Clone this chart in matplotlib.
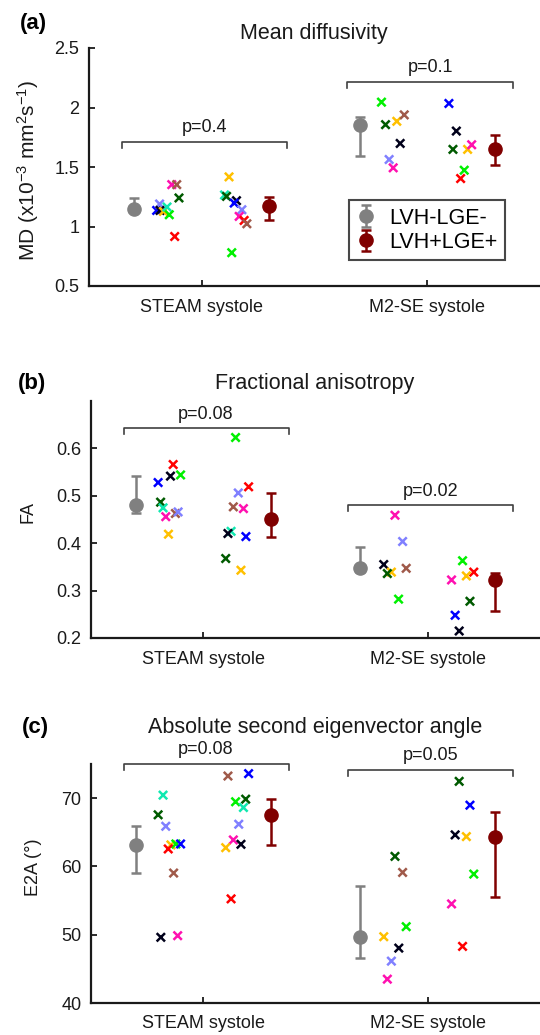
import numpy as np
import matplotlib
matplotlib.use('Agg')
import matplotlib.pyplot as plt

plt.rcParams['font.family'] = ['Liberation Sans', 'DejaVu Sans']
plt.rcParams['mathtext.fontset'] = 'custom'
plt.rcParams['mathtext.rm'] = 'Liberation Sans'
plt.rcParams['mathtext.it'] = 'Liberation Sans:italic'
plt.rcParams['mathtext.default'] = 'regular'

# categorías y grupos
categories = ['STEAM systole', 'M2-SE systole']
groups = ['LVH-LGE-', 'LVH+LGE+']
group_colors = ['#808080', '#800000']

# colores por sujeto
palette = {'b': '#0000ff', 'lb': '#8080ff', 'k': '#00001a', 'y': '#ffc000',
           'aq': '#10e8b0', 'g': '#00f000', 'm': '#ff10b0', 'br': '#a05a4a',
           'dg': '#005a00', 'r': '#ff0000'}

# ---------- (a) MD ----------
md_steam_neg_subj = ['b', 'lb', 'k', 'y', 'aq', 'g', 'm', 'br', 'dg', 'r']
md_steam_neg_dx = [-0.20, -0.187, -0.185, -0.170, -0.154, -0.144, -0.133, -0.111, -0.101, -0.12]
md_steam_neg = [1.135, 1.189, 1.135, 1.127, 1.164, 1.099, 1.352, 1.352, 1.240, 0.916]
md_steam_pos_subj = ['y', 'aq', 'dg', 'k', 'b', 'lb', 'm', 'r', 'br', 'g']
md_steam_pos_dx = [0.121, 0.101, 0.110, 0.154, 0.144, 0.178, 0.166, 0.188, 0.200, 0.133]
md_steam_pos = [1.417, 1.265, 1.253, 1.217, 1.197, 1.141, 1.085, 1.051, 1.023, 0.78]
md_m2_neg_subj = ['g', 'dg', 'y', 'br', 'k', 'lb', 'm']
md_m2_neg_dx = [-0.203, -0.185, -0.135, -0.102, -0.12, -0.169, -0.151]
md_m2_neg = [2.045, 1.856, 1.884, 1.938, 1.698, 1.563, 1.493]
md_m2_pos_subj = ['b', 'k', 'dg', 'y', 'm', 'g', 'r']
md_m2_pos_dx = [0.096, 0.129, 0.114, 0.179, 0.197, 0.164, 0.148]
md_m2_pos = [2.034, 1.802, 1.648, 1.648, 1.687, 1.473, 1.403]
# mediana / inferior / superior  [técnica][grupo]
md_med = [[1.147, 1.169], [1.856, 1.648]]
md_lo = [[1.125, 1.051], [1.591, 1.513]]
md_hi = [[1.237, 1.248], [1.924, 1.769]]
md_p = ['p=0.4', 'p=0.1']
md_bracket = [1.71, 2.216]

# ---------- (b) FA ----------
fa_steam_neg_subj = ['b', 'k', 'r', 'g', 'dg', 'aq', 'm', 'br', 'lb', 'y']
fa_steam_neg_dx = [-0.201, -0.146, -0.134, -0.101, -0.19, -0.179, -0.167, -0.124, -0.112, -0.155]
fa_steam_neg = [0.528, 0.5415, 0.566, 0.544, 0.4866, 0.4746, 0.456, 0.4627, 0.466, 0.419]
fa_steam_pos_subj = ['g', 'r', 'lb', 'br', 'm', 'aq', 'k', 'b', 'dg', 'y']
fa_steam_pos_dx = [0.144, 0.202, 0.156, 0.134, 0.179, 0.124, 0.11, 0.19, 0.10, 0.168]
fa_steam_pos = [0.623, 0.519, 0.506, 0.4767, 0.473, 0.425, 0.4205, 0.414, 0.3677, 0.343]
fa_m2_neg_subj = ['m', 'lb', 'k', 'y', 'dg', 'br', 'g']
fa_m2_neg_dx = [-0.146, -0.112, -0.196, -0.162, -0.18, -0.096, -0.13]
fa_m2_neg = [0.459, 0.4036, 0.355, 0.339, 0.336, 0.347, 0.282]
fa_m2_pos_subj = ['g', 'r', 'y', 'm', 'dg', 'b', 'k']
fa_m2_pos_dx = [0.155, 0.205, 0.172, 0.106, 0.188, 0.122, 0.14]
fa_m2_pos = [0.363, 0.339, 0.331, 0.3225, 0.2775, 0.248, 0.2148]
fa_med = [[0.4796, 0.450], [0.348, 0.322]]
fa_lo = [[0.4627, 0.413], [0.340, 0.256]]
fa_hi = [[0.5415, 0.506], [0.392, 0.337]]
fa_p = ['p=0.08', 'p=0.02']
fa_bracket = [0.642, 0.480]

# ---------- (c) E2A ----------
e2a_steam_neg_subj = ['aq', 'dg', 'lb', 'y', 'g', 'b', 'r', 'br', 'k', 'm']
e2a_steam_neg_dx = [-0.179, -0.201, -0.167, -0.144, -0.122, -0.101, -0.156, -0.132, -0.189, -0.114]
e2a_steam_neg = [70.44, 67.56, 65.88, 63.15, 63.29, 63.29, 62.56, 59.03, 49.62, 49.86]
e2a_steam_pos_subj = ['br', 'b', 'g', 'dg', 'aq', 'lb', 'm', 'k', 'y', 'r']
e2a_steam_pos_dx = [0.11, 0.202, 0.144, 0.189, 0.179, 0.158, 0.134, 0.168, 0.10, 0.124]
e2a_steam_pos = [73.24, 73.59, 69.47, 69.85, 68.63, 66.18, 63.88, 63.24, 62.75, 55.25]
e2a_m2_neg_subj = ['dg', 'br', 'g', 'y', 'k', 'lb', 'm']
e2a_m2_neg_dx = [-0.146, -0.112, -0.096, -0.196, -0.129, -0.162, -0.18]
e2a_m2_neg = [61.47, 59.12, 51.18, 49.71, 48.04, 46.13, 43.49]
e2a_m2_pos_subj = ['dg', 'b', 'k', 'y', 'g', 'm', 'r']
e2a_m2_pos_dx = [0.14, 0.188, 0.122, 0.172, 0.205, 0.106, 0.155]
e2a_m2_pos = [72.46, 68.97, 64.62, 64.37, 58.88, 54.51, 48.29]
e2a_med = [[63.15, 67.46], [49.71, 64.37]]
e2a_lo = [[59.03, 63.19], [46.57, 55.59]]
e2a_hi = [[65.88, 69.85], [57.16, 67.94]]
e2a_p = ['p=0.08', 'p=0.05']
e2a_bracket = [75.0, 74.12]

W, H = 540, 1035
fig = plt.figure(figsize=(W / 100, H / 100), dpi=100)


def px_axes(left, top, right, bottom):
    return fig.add_axes([left / W, 1 - bottom / H, (right - left) / W, (bottom - top) / H])


def draw_panel(ax, pts, med, lo, hi, pvals, bracket, ylim, yticks, yticklabels):
    # puntos individuales
    for (subj, dx, vals), xc in zip(pts, [1, 1, 2, 2]):
        ax.scatter(xc + np.array(dx), vals, marker='x', s=36, linewidths=1.8,
                   c=[palette[s] for s in subj], zorder=3)
    # mediana con barras
    handles = []
    for g in range(2):
        xs = np.arange(1, 3) + (-0.3 if g == 0 else 0.3)
        m = np.array([med[0][g], med[1][g]])
        l = np.array([lo[0][g], lo[1][g]])
        h = np.array([hi[0][g], hi[1][g]])
        eb = ax.errorbar(xs, m, yerr=[m - l, h - m], fmt='o', color=group_colors[g],
                         ms=9.5, capsize=3.5, elinewidth=1.8, capthick=1.8, zorder=4,
                         label=groups[g])
        handles.append(eb)
    # corchetes con p
    drop = (ylim[1] - ylim[0]) * 0.025
    for i, (ptxt, yb) in enumerate(zip(pvals, bracket)):
        x0, x1 = i + 1 - 0.355, i + 1 + 0.38
        ax.plot([x0, x0, x1, x1], [yb - drop, yb, yb, yb - drop], color='#404040',
                lw=1.2, clip_on=False, zorder=2)
        ax.annotate(ptxt, ((x0 + x1) / 2, yb), xytext=(0, 4), textcoords='offset points',
                    ha='center', va='bottom', fontsize=13, color='#1a1a1a',
                    annotation_clip=False)
    ax.set_xlim(0.5, 2.5)
    ax.set_ylim(*ylim)
    ax.set_xticks([1, 2])
    ax.set_xticklabels(categories, fontsize=13)
    ax.set_yticks(yticks)
    ax.set_yticklabels(yticklabels, fontsize=13)
    ax.tick_params(direction='in', length=4, width=1.3, colors='#1a1a1a')
    ax.tick_params(axis='x', pad=9)
    ax.tick_params(axis='y', pad=7)
    for s in ['top', 'right']:
        ax.spines[s].set_visible(False)
    for s in ['left', 'bottom']:
        ax.spines[s].set_linewidth(1.6)
        ax.spines[s].set_color('#1a1a1a')
    return handles


def ftext(x, y, s, **kw):
    fig.text(x / W, 1 - y / H, s, **kw)


# (a)
ax_a = px_axes(89, 48, 540, 286)
h = draw_panel(ax_a,
               [(md_steam_neg_subj, md_steam_neg_dx, md_steam_neg),
                (md_steam_pos_subj, md_steam_pos_dx, md_steam_pos),
                (md_m2_neg_subj, md_m2_neg_dx, md_m2_neg),
                (md_m2_pos_subj, md_m2_pos_dx, md_m2_pos)],
               md_med, md_lo, md_hi, md_p, md_bracket,
               (0.5, 2.5), [0.5, 1, 1.5, 2, 2.5], ['0.5', '1', '1.5', '2', '2.5'])
leg = ax_a.legend(handles=h, loc='upper left', bbox_to_anchor=(0.577, 0.361),
                  borderaxespad=0, fontsize=15.5, frameon=True, fancybox=False,
                  handlelength=0.9, handletextpad=0.6, borderpad=0.35, labelspacing=0.15)
leg.get_frame().set_edgecolor('#1a1a1a')
leg.get_frame().set_linewidth(1.5)
ftext(314, 33, 'Mean diffusivity', ha='center', va='center', fontsize=15.5, color='#1a1a1a')
ftext(20, 24, '(a)', ha='left', va='center', fontsize=16, fontweight='bold')
ftext(28, 170, r'MD (x10$^{-3}$ mm$^{2}$s$^{-1}$)', ha='center', va='center',
      rotation=90, fontsize=15, color='#1a1a1a')

# (b)
ax_b = px_axes(91, 401, 540, 638)
draw_panel(ax_b,
           [(fa_steam_neg_subj, fa_steam_neg_dx, fa_steam_neg),
            (fa_steam_pos_subj, fa_steam_pos_dx, fa_steam_pos),
            (fa_m2_neg_subj, fa_m2_neg_dx, fa_m2_neg),
            (fa_m2_pos_subj, fa_m2_pos_dx, fa_m2_pos)],
           fa_med, fa_lo, fa_hi, fa_p, fa_bracket,
           (0.2, 0.7), [0.2, 0.3, 0.4, 0.5, 0.6], ['0.2', '0.3', '0.4', '0.5', '0.6'])
ftext(315, 383, 'Fractional anisotropy', ha='center', va='center', fontsize=15.5, color='#1a1a1a')
ftext(18, 383, '(b)', ha='left', va='center', fontsize=16, fontweight='bold')
ftext(28, 512, 'FA', ha='center', va='center', rotation=90, fontsize=13, color='#1a1a1a')

# (c)
ax_c = px_axes(91, 764, 540, 1003)
draw_panel(ax_c,
           [(e2a_steam_neg_subj, e2a_steam_neg_dx, e2a_steam_neg),
            (e2a_steam_pos_subj, e2a_steam_pos_dx, e2a_steam_pos),
            (e2a_m2_neg_subj, e2a_m2_neg_dx, e2a_m2_neg),
            (e2a_m2_pos_subj, e2a_m2_pos_dx, e2a_m2_pos)],
           e2a_med, e2a_lo, e2a_hi, e2a_p, e2a_bracket,
           (40, 75), [40, 50, 60, 70], ['40', '50', '60', '70'])
ftext(315, 728, 'Absolute second eigenvector angle', ha='center', va='center', fontsize=15.5,
      color='#1a1a1a')
ftext(22, 727, '(c)', ha='left', va='center', fontsize=16, fontweight='bold')
ftext(33, 867, 'E2A (°)', ha='center', va='center', rotation=90, fontsize=13, color='#1a1a1a')

fig.savefig('out.png', dpi=100)
